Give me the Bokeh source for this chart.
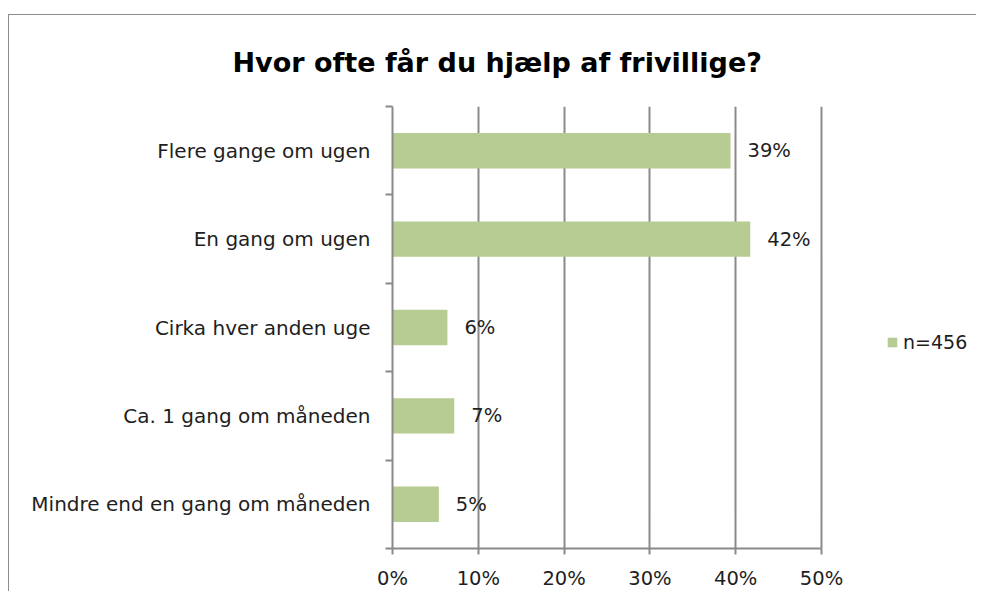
from bokeh.plotting import figure
from bokeh.models import (FixedTicker, Legend, LegendItem, ColumnDataSource, Title,
                          PrintfTickFormatter)
from bokeh.embed import file_html
from bokeh.resources import INLINE
from bokeh.core.properties import value

categories = ["Mindre end en gang om måneden", "Ca. 1 gang om måneden",
              "Cirka hver anden uge", "En gang om ugen", "Flere gange om ugen"]
values = [5.4, 7.2, 6.4, 41.7, 39.4]
series_name = "n=456"
x_ticks = [0, 10, 20, 30, 40, 50]
title_text = "Hvor ofte får du hjælp af frivillige?"

FONT = "DejaVu Sans"
FS = "19.5px"
BAR = "#b6cc92"
GRID = "#8a8a8a"
TXT = "#1e1e1e"

pos = [i + 0.5 for i in range(len(categories))]
labels = ["%d%%" % round(v) for v in values]
src = ColumnDataSource(dict(y=pos, v=values, lab=labels, cat=categories))

W, H = 968, 577
LEFT = 383           # frame left inside the figure
AXIS_W = 429         # pixels spanned by the 0..50 % axis
frame_w = W - LEFT   # frame runs to the right edge, so the legend can sit in it
x_end = x_ticks[-1] * frame_w / AXIS_W

p = figure(width=W, height=H, output_backend="svg", toolbar_location=None,
           x_range=(x_ticks[0], x_end), y_range=(0, len(categories)),
           min_border_left=LEFT, min_border_right=0,
           min_border_top=91, min_border_bottom=43)
p.styles = {"border-left": "1px solid #8c8c8c", "border-top": "1px solid #8c8c8c",
            "margin-top": "14px", "margin-left": "8px"}
p.outline_line_color = None
p.background_fill_color = "white"
p.border_fill_color = "white"

t = Title(text=title_text, align="left", offset=231 - 391, standoff=57,
          text_font=FONT, text_font_size="27px", text_font_style="bold",
          text_color="#000000")
p.add_layout(t, "above")

r = p.hbar(y="y", right="v", left=0, height=0.4, source=src,
           fill_color=BAR, line_color=None)
p.text(x="v", y="y", text="lab", source=src, x_offset=17,
       text_baseline="middle", text_align="left", text_font=value(FONT),
       text_font_size=FS, text_color=TXT)

# x axis, limited to 0..50 %
p.xaxis.bounds = (x_ticks[0], x_ticks[-1])
p.xaxis.ticker = FixedTicker(ticks=x_ticks)
p.xaxis.formatter = PrintfTickFormatter(format="%d%%")
p.xaxis.axis_line_color = GRID
p.xaxis.axis_line_width = 2
p.xaxis.major_tick_line_color = GRID
p.xaxis.major_tick_line_width = 2
p.xaxis.major_tick_out = 6
p.xaxis.major_tick_in = 0
p.xaxis.minor_tick_line_color = None
p.xaxis.major_label_text_font = FONT
p.xaxis.major_label_text_font_size = FS
p.xaxis.major_label_text_color = TXT
p.xaxis.major_label_standoff = 12

# y axis: labels at centers, ticks at boundaries (minor)
p.yaxis.ticker = FixedTicker(ticks=pos, minor_ticks=list(range(len(categories) + 1)))
p.yaxis.major_label_overrides = {pp: c for pp, c in zip(pos, categories)}
p.yaxis.major_tick_line_color = None
p.yaxis.minor_tick_line_color = GRID
p.yaxis.minor_tick_line_width = 2
p.yaxis.minor_tick_out = 7
p.yaxis.minor_tick_in = 0
p.yaxis.axis_line_color = GRID
p.yaxis.axis_line_width = 2
p.yaxis.major_label_text_font = FONT
p.yaxis.major_label_text_font_size = "20px"
p.yaxis.major_label_text_color = TXT
p.yaxis.major_label_standoff = 15

p.ygrid.grid_line_color = None
p.xgrid.ticker = FixedTicker(ticks=x_ticks)
p.xgrid.grid_line_color = GRID
p.xgrid.grid_line_width = 2

legend = Legend(items=[LegendItem(label=series_name, renderers=[r])],
                location=(494, 195), padding=0, margin=0, border_line_color=None,
                background_fill_alpha=0, glyph_width=12, glyph_height=12,
                label_standoff=5, label_text_font=FONT, label_text_font_size="19px",
                label_text_color=TXT)
p.add_layout(legend, "center")

open("out.html", "w").write(file_html(p, INLINE))
